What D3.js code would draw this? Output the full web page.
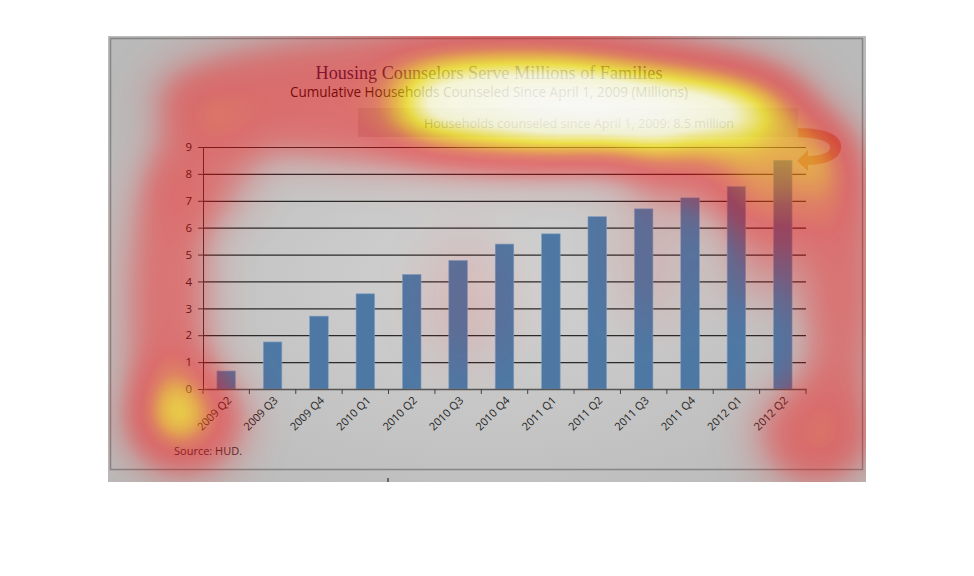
<!DOCTYPE html>
<html><head><meta charset="utf-8">
<script src="https://cdn.jsdelivr.net/npm/d3@7"></script>
<style>body{margin:0;background:#fff}</style>
</head><body>
<script>
const categories = ["2009 Q2","2009 Q3","2009 Q4","2010 Q1","2010 Q2","2010 Q3","2010 Q4","2011 Q1","2011 Q2","2011 Q3","2011 Q4","2012 Q1","2012 Q2"];
const households = [0.67,1.75,2.71,3.54,4.26,4.78,5.39,5.77,6.41,6.70,7.11,7.53,8.51];
const yTicks = [0,1,2,3,4,5,6,7,8,9];
const title = "Housing Counselors Serve Millions of Families";
const subtitle = "Cumulative Households Counseled Since April 1, 2009 (Millions)";
const note = "Households counseled  since  April 1, 2009: 8.5 million";
const source = "Source:  HUD.";
// attention heatmap spots laid over the picture: [cx, cy, rx, ry, weight]
const heatSpots = [
  [480,98,330,70,0.5],[730,140,110,70,0.4],[205,165,50,60,0.38],[168,300,40,150,0.48],[185,420,62,58,0.5],
  [183,416,27,25,0.86],[785,175,70,65,0.45],[840,280,36,130,0.48],[815,432,62,56,0.42],
  [820,440,32,28,0.38],[832,150,30,26,0.42],
  [580,112,195,52,0.88],[520,78,130,28,0.8],[612,113,100,34,1],
  [465,300,50,70,0.15],[650,250,40,80,0.15],[760,250,35,60,0.3]
];

const W=974,H=576;
const svg=d3.select("body").append("svg").attr("width",W).attr("height",H);
const defs=svg.append("defs");
const rg=defs.append("radialGradient").attr("id","bg").attr("cx","50%").attr("cy","55%").attr("r","60%");
rg.append("stop").attr("offset","0%").attr("stop-color","#d2d2d2");
rg.append("stop").attr("offset","100%").attr("stop-color","#bababa");

const hf=defs.append("filter").attr("id","heat").attr("filterUnits","userSpaceOnUse")
  .attr("x",108).attr("y",36).attr("width",758).attr("height",446)
  .attr("color-interpolation-filters","sRGB");
hf.append("feGaussianBlur").attr("in","SourceAlpha").attr("stdDeviation",24).attr("result","b");
hf.append("feColorMatrix").attr("in","b").attr("type","matrix")
  .attr("values","0 0 0 1 0  0 0 0 1 0  0 0 0 1 0  0 0 0 1 0").attr("result","i");
const ct=hf.append("feComponentTransfer").attr("in","i");
ct.append("feFuncR").attr("type","table").attr("tableValues","1 1 1 1 1 1 1 1 1 1 1");
ct.append("feFuncG").attr("type","table").attr("tableValues","0 0 0 0 0 0 0.2 0.6 0.92 1 1");
ct.append("feFuncB").attr("type","table").attr("tableValues","0 0 0 0 0 0 0 0 0.05 0.85 1");
ct.append("feFuncA").attr("type","table").attr("tableValues","0 0.06 0.15 0.28 0.38 0.43 0.47 0.58 0.68 0.82 0.9");

svg.append("rect").attr("x",108).attr("y",36).attr("width",758).attr("height",446).attr("fill","url(#bg)");
svg.append("rect").attr("x",110.5).attr("y",38.5).attr("width",752).attr("height",431).attr("fill","none").attr("stroke","#858585").attr("stroke-width",1.5);

const m={l:203,r:806,t:147,b:389};
const x=d3.scaleBand().domain(categories).range([m.l,m.r]).paddingInner(0.6).paddingOuter(0.3);
const y=d3.scaleLinear().domain([0,9]).range([m.b,m.t]);

// gridlines
svg.append("g").selectAll("line").data(yTicks.slice(1)).join("line")
  .attr("x1",m.l).attr("x2",m.r).attr("y1",d=>y(d)+0.5).attr("y2",d=>y(d)+0.5)
  .attr("stroke","#2a2a2a").attr("stroke-width",1.2);

// bars
svg.append("g").selectAll("rect").data(households).join("rect")
  .attr("x",(d,i)=>x(categories[i])).attr("width",x.bandwidth())
  .attr("y",d=>y(d)).attr("height",d=>y(0)-y(d))
  .attr("fill","#4e78a4").attr("stroke","#7f9ec2").attr("stroke-width",0.6);

// y axis
const ya=svg.append("g").attr("transform",`translate(${m.l},0)`)
  .call(d3.axisLeft(y).tickValues(yTicks).tickSize(5).tickPadding(6));
ya.select(".domain").attr("stroke","#333");
ya.selectAll(".tick line").attr("stroke","#333");
ya.selectAll("text").attr("font-family","Open Sans, sans-serif").attr("font-size",11.5).attr("fill","#222");

// x axis
const xb=d3.scaleBand().domain(categories).range([m.l,m.r]);
const xa=svg.append("g").attr("transform",`translate(0,${m.b})`)
  .call(d3.axisBottom(xb).tickSize(0).tickFormat(""));
xa.select(".domain").attr("stroke","#555").attr("stroke-width",1.5);
svg.append("g").selectAll("line").data(categories.concat(["end"])).join("line")
  .attr("x1",(d,i)=>m.l+i*xb.step()).attr("x2",(d,i)=>m.l+i*xb.step())
  .attr("y1",m.b).attr("y2",m.b+5).attr("stroke","#444");
svg.append("g").selectAll("text").data(categories).join("text")
  .attr("transform",d=>`translate(${x(d)+x.bandwidth()/2+6},${m.b+12}) rotate(-45)`)
  .attr("text-anchor","end").attr("font-family","Open Sans, sans-serif").attr("font-size",11).attr("fill","#222")
  .text(d=>d);

// titles
svg.append("text").attr("x",489).attr("y",79).attr("text-anchor","middle")
  .attr("font-family","Liberation Serif, serif").attr("font-size",18).attr("fill","#2c2250")
  .attr("textLength",347).attr("lengthAdjust","spacingAndGlyphs").text(title);
svg.append("text").attr("x",489).attr("y",97).attr("text-anchor","middle")
  .attr("font-family","Open Sans, sans-serif").attr("font-size",14).attr("fill","#111")
  .attr("textLength",398).attr("lengthAdjust","spacingAndGlyphs").text(subtitle);

// annotation box and arrow
svg.append("rect").attr("x",358).attr("y",108).attr("width",440).attr("height",29).attr("fill","#a8a8a8").attr("opacity",0.7);
svg.append("text").attr("x",579).attr("y",128).attr("text-anchor","middle")
  .attr("font-family","Open Sans, sans-serif").attr("font-size",12).attr("fill","#333")
  .attr("textLength",310).attr("lengthAdjust","spacingAndGlyphs").text(note);
svg.append("path").attr("d","M798,128 C835,128 845,140 840,152 C836,162 818,165 808,165 L808,171 L797,161 L808,150 L808,156 C822,156 832,152 830,146 C828,140 815,138 798,137 Z")
  .attr("fill","#b07050").attr("opacity",0.7);

svg.append("text").attr("x",174).attr("y",455).attr("font-family","Open Sans, sans-serif").attr("font-size",11).attr("fill","#333").text(source);
svg.append("line").attr("x1",388).attr("x2",388).attr("y1",478).attr("y2",482).attr("stroke","#111");

// heatmap overlay
svg.append("g").attr("filter","url(#heat)")
  .selectAll("ellipse").data(heatSpots).join("ellipse")
  .attr("cx",d=>d[0]).attr("cy",d=>d[1]).attr("rx",d=>d[2]).attr("ry",d=>d[3])
  .attr("fill","#000").attr("fill-opacity",d=>d[4]);
</script>
</body></html>
